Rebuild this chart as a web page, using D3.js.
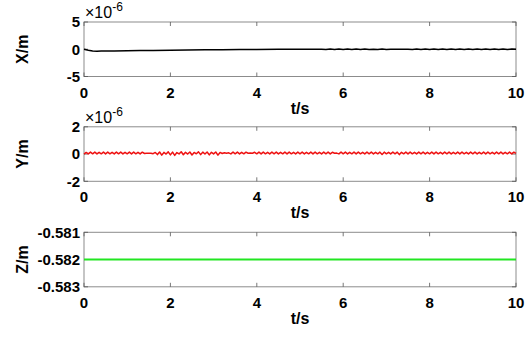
<!DOCTYPE html>
<html>
<head>
<meta charset="utf-8">
<script src="https://cdn.jsdelivr.net/npm/d3@7"></script>
<style>
  body { margin: 0; background: #fff; }
  text { font-family: "Liberation Sans", Arial, sans-serif; font-weight: bold; fill: #000; }
</style>
</head>
<body>
<script>
// data (values in units of 1e-6 m for X and Y)
var xTicks = [0, 2, 4, 6, 8, 10];

var xTime = [0, 0.1, 0.2, 0.3, 0.4, 0.5, 0.7, 1.0, 1.3, 1.6, 2.0, 2.4, 2.8, 3.2, 3.6, 4.0, 4.5, 5.0, 5.5,
  5.6, 5.7, 5.8, 5.9, 6.0, 6.1, 6.2, 6.3, 6.4, 6.5, 6.6, 6.7, 6.8, 6.9, 7.0, 7.1, 7.2, 7.3, 7.4, 7.5,
  7.6, 7.7, 7.8, 7.9, 8.0, 8.1, 8.2, 8.3, 8.4, 8.5, 8.6, 8.7, 8.8, 8.9, 9.0, 9.1, 9.2, 9.3, 9.4, 9.5,
  9.6, 9.7, 9.8, 9.9, 10.0];
var xVals = [0, -0.18, -0.32, -0.36, -0.34, -0.32, -0.3, -0.27, -0.24, -0.21, -0.17, -0.13, -0.1, -0.07, -0.05, -0.03, -0.02, -0.01, 0,
  -0.06, 0.04, -0.05, 0.05, -0.04, 0.03, -0.06, 0.04, -0.03, 0.05, -0.05, 0.02, -0.04, 0.04, -0.03, 0.01, -0.02, 0.02, -0.01, 0.02,
  -0.03, 0.04, -0.05, 0.03, -0.04, 0.05, -0.03, 0.04, -0.05, 0.03, -0.04, 0.05, -0.03, 0.04, -0.05, 0.03, -0.06, 0.04, -0.03, 0.05,
  -0.05, 0.04, -0.06, 0.05, 0.0];
var xTicksY = ["-5", "0", "5"];

// Y sampled every 0.05 s
var yVals = [
  0.0, 0.12, 0.01, 0.14, 0.02, 0.14, 0.01, 0.13, 0.02, 0.14, 0.01, 0.14, 0.02, 0.13, 0.01, 0.14, 0.02, 0.14, 0.01, 0.13,
  0.02, 0.14, 0.01, 0.14, 0.02, 0.13, 0.01, 0.14, 0.04, 0.06, 0.05, 0.06, 0.03, 0.12, -0.04, 0.15, -0.08, 0.12, 0.00, 0.16,
  -0.06, 0.14, -0.10, 0.11, 0.01, 0.17, -0.05, 0.13, 0.00, 0.15, -0.07, 0.12, 0.02, 0.16, -0.04, 0.14, 0.00, 0.15, -0.06, 0.13,
  0.01, 0.15, -0.08, 0.12, 0.04, 0.10, 0.06, 0.09, 0.01, 0.14, 0.02, 0.14, 0.01, 0.13, 0.02, 0.14, 0.06, 0.07, 0.06, 0.13,
  0.02, 0.14, 0.01, 0.14, 0.02, 0.13, 0.01, 0.14, 0.02, 0.14, 0.01, 0.13, 0.02, 0.14, 0.01, 0.14, 0.02, 0.13, 0.01, 0.14,
  0.02, 0.14, 0.01, 0.13, 0.02, 0.14, 0.01, 0.14, 0.02, 0.13, 0.01, 0.14, 0.02, 0.14, 0.01, 0.13, 0.06, 0.07, 0.01, 0.14,
  0.02, 0.14, 0.01, 0.13, 0.02, 0.14, 0.01, 0.14, 0.02, 0.13, 0.01, 0.14, 0.02, 0.14, 0.01, 0.13, 0.02, 0.14, -0.03, 0.14,
  0.02, 0.13, 0.01, 0.14, 0.02, 0.14, -0.04, 0.13, 0.02, 0.14, 0.01, 0.14, 0.02, 0.13, 0.01, 0.14, 0.02, 0.14, 0.01, 0.13,
  0.02, 0.14, 0.01, 0.14, 0.02, 0.13, 0.01, 0.14, 0.02, 0.14, 0.01, 0.13, 0.02, 0.14, 0.01, 0.14, 0.02, 0.13, 0.01, 0.14,
  0.02, 0.14, 0.01, 0.13, 0.02, 0.14, 0.01, 0.14, 0.02, 0.13, 0.01, 0.14, 0.02, 0.14, 0.01, 0.13, 0.02, 0.14, 0.01, 0.14,
  0.05];
var yTicksY = ["-2", "0", "2"];

var zTime = [0, 2, 4, 6, 8, 10];
var zVals = [-0.582, -0.582, -0.582, -0.582, -0.582, -0.582];
var zTicksY = ["-0.583", "-0.582", "-0.581"];

var svgWidth = 532;
var svgHeight = 340;

var svg = d3.select("body")
  .append("svg")
  .attr("width", svgWidth)
  .attr("height", svgHeight);

var left = 84, right = 516, panelH = 54.5;

var x = d3.scaleLinear().domain([0, 10]).range([left, right]);

var panels = [
  { top: 22, label: "X/m", domain: [-5, 5], ticks: xTicksY,
    pts: xTime.map((t, i) => [t, xVals[i]]), color: "#000", width: 1.5, exp: true },
  { top: 126.8, label: "Y/m", domain: [-2, 2], ticks: yTicksY,
    pts: yVals.map((v, i) => [i * 0.05, v]), color: "#ee1111", width: 1.5, exp: true },
  { top: 232.3, label: "Z/m", domain: [-0.583, -0.581], ticks: zTicksY,
    pts: zTime.map((t, i) => [t, zVals[i]]), color: "#22e622", width: 2, exp: false }
];

panels.forEach(function(p) {
  var bottom = p.top + panelH;
  var y = d3.scaleLinear().domain(p.domain).range([bottom, p.top]);
  var g = svg.append("g");

  // box
  g.append("rect")
    .attr("x", left).attr("y", p.top)
    .attr("width", right - left).attr("height", panelH)
    .attr("fill", "none").attr("stroke", "#8c8c8c").attr("stroke-width", 1);

  // x ticks (inside, top and bottom)
  xTicks.forEach(function(t) {
    g.append("line").attr("x1", x(t)).attr("x2", x(t)).attr("y1", bottom).attr("y2", bottom - 4)
      .attr("stroke", "#555").attr("stroke-width", 0.8);
    g.append("line").attr("x1", x(t)).attr("x2", x(t)).attr("y1", p.top).attr("y2", p.top + 4)
      .attr("stroke", "#555").attr("stroke-width", 0.8);
    g.append("text").attr("x", x(t)).attr("y", bottom + 21)
      .attr("text-anchor", "middle").style("font-size", "15px").text(t);
  });

  // y ticks
  p.ticks.forEach(function(s) {
    var v = +s;
    g.append("line").attr("x1", left).attr("x2", left + 4).attr("y1", y(v)).attr("y2", y(v))
      .attr("stroke", "#555").attr("stroke-width", 0.8);
    g.append("line").attr("x1", right).attr("x2", right - 4).attr("y1", y(v)).attr("y2", y(v))
      .attr("stroke", "#555").attr("stroke-width", 0.8);
    g.append("text").attr("x", left - 4).attr("y", y(v)).attr("dy", "0.36em")
      .attr("text-anchor", "end").style("font-size", "15px").text(s);
  });

  // data line
  var line = d3.line().x(d => x(d[0])).y(d => y(d[1]));
  g.append("path").datum(p.pts)
    .attr("d", line).attr("fill", "none")
    .attr("stroke", p.color).attr("stroke-width", p.width)
    .attr("stroke-linejoin", "round");

  // axis labels
  g.append("text").attr("x", (left + right) / 2).attr("y", bottom + 37)
    .attr("text-anchor", "middle").style("font-size", "16px").text("t/s");

  g.append("text")
    .attr("transform", `translate(28, ${(p.top + bottom) / 2}) rotate(-90)`)
    .attr("text-anchor", "middle").style("font-size", "16px").text(p.label);

  if (p.exp) {
    var e = g.append("text").attr("x", 85).attr("y", p.top - 4)
      .style("font-size", "16px").style("font-weight", "normal");
    e.append("tspan").text("\u00d710");
    e.append("tspan").attr("dy", -7).style("font-size", "12px").text("-6");
  }
});
</script>
</body>
</html>
